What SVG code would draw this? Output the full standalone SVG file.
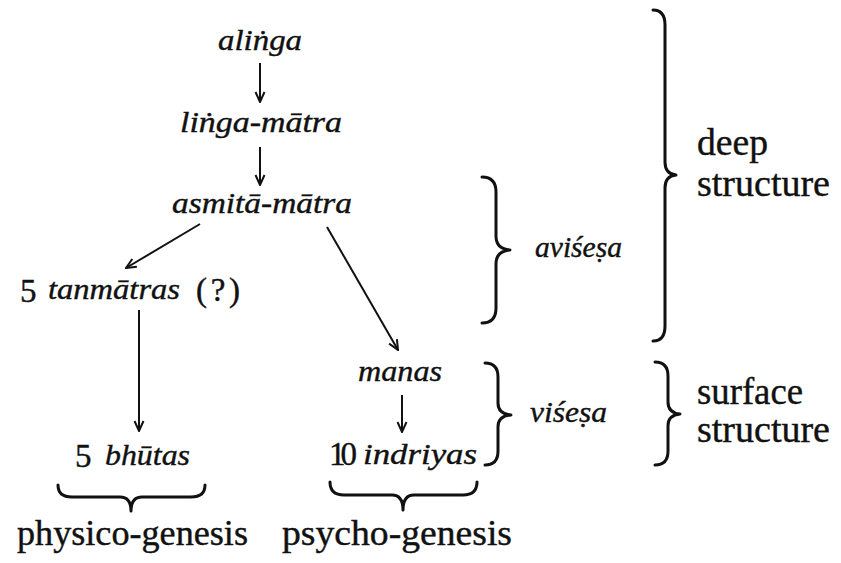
<svg xmlns="http://www.w3.org/2000/svg" width="841" height="563" viewBox="0 0 841 563">
  <style>
    text { font-family: 'Liberation Serif', serif; fill: #111; stroke: #111; stroke-width: 0.4; }
    .it { font-style: italic; font-size: 30px; }
    .up { font-size: 33px; }
    .side { font-size: 37px; }
    .foot { font-size: 35px; }
    .edge { stroke: #111; stroke-width: 2; fill: none; marker-end: url(#arrow); }
    .brace { stroke: #111; stroke-width: 3; fill: none; stroke-linecap: round; stroke-linejoin: round; }
  </style>
  <defs>
    <marker id="arrow" viewBox="0 0 12 12" refX="11" refY="6" markerWidth="12" markerHeight="12" markerUnits="userSpaceOnUse" orient="auto">
      <path d="M1,1.5 L11,6 L1,10.5" fill="none" stroke="#111" stroke-width="2"/>
    </marker>
  </defs>

  <rect width="841" height="563" fill="#fff"/>

  <g font-family="Liberation Serif, serif">
    <!-- derivation nodes -->
    <g id="alinga"><text class="it" x="218" y="50" textLength="84" lengthAdjust="spacingAndGlyphs">aliṅga</text></g>
    <g id="linga-matra"><text class="it" x="180" y="132" textLength="162" lengthAdjust="spacingAndGlyphs">liṅga-mātra</text></g>
    <g id="asmita-matra"><text class="it" x="172" y="213" textLength="180" lengthAdjust="spacingAndGlyphs">asmitā-mātra</text></g>
    <g id="tanmatras">
      <text class="up" x="20" y="302">5</text>
      <text class="it" x="48" y="299" textLength="132" lengthAdjust="spacingAndGlyphs">tanmātras</text>
      <text class="up" x="196" y="301" textLength="44" lengthAdjust="spacing">(?)</text>
    </g>
    <g id="manas"><text class="it" x="358" y="381" textLength="84" lengthAdjust="spacingAndGlyphs">manas</text></g>
    <g id="bhutas">
      <text class="up" x="75" y="467">5</text>
      <text class="it" x="105" y="465" textLength="85" lengthAdjust="spacingAndGlyphs">bhūtas</text>
    </g>
    <g id="indriyas">
      <text class="up" x="329" y="465" textLength="28" lengthAdjust="spacing">10</text>
      <text class="it" x="363" y="464" textLength="114" lengthAdjust="spacingAndGlyphs">indriyas</text>
    </g>

    <!-- connectors -->
    <g id="connectors">
      <line class="edge" x1="260" y1="63" x2="260" y2="102"/>
      <line class="edge" x1="260" y1="147" x2="260" y2="185"/>
      <line class="edge" x1="200" y1="224" x2="126" y2="268"/>
      <line class="edge" x1="327" y1="227" x2="398" y2="350"/>
      <line class="edge" x1="139" y1="310" x2="139" y2="431"/>
      <line class="edge" x1="402" y1="395" x2="402" y2="432"/>
    </g>

    <!-- braces grouping levels -->
    <g id="brace-avisesa">
      <path class="brace" d="M482,177 Q496,177 496,192 L496,236 Q496,249 510,250 Q496,251 496,264 L496,308 Q496,323 482,323"/>
      <text class="it" x="535" y="257" textLength="87" lengthAdjust="spacingAndGlyphs">aviśeṣa</text>
    </g>
    <g id="brace-visesa">
      <path class="brace" d="M485,363 Q498,363 498,377 L498,403 Q498,414 511,415 Q498,416 498,427 L498,451 Q498,465 485,465"/>
      <text class="it" x="530" y="422" textLength="77" lengthAdjust="spacingAndGlyphs">viśeṣa</text>
    </g>
    <g id="brace-deep">
      <path class="brace" d="M653,10 Q665,10 665,25 L665,162 Q665,174 676,175 Q665,176 665,188 L665,326 Q665,341 653,341"/>
      <text class="side" x="697" y="155" textLength="71" lengthAdjust="spacingAndGlyphs">deep</text>
      <text class="side" x="697" y="196" textLength="133" lengthAdjust="spacingAndGlyphs">structure</text>
    </g>
    <g id="brace-surface">
      <path class="brace" d="M655,362 Q668,362 668,376 L668,402 Q668,413 680,414 Q668,415 668,426 L668,451 Q668,465 655,465"/>
      <text class="side" x="697" y="404" textLength="106" lengthAdjust="spacingAndGlyphs">surface</text>
      <text class="side" x="697" y="442" textLength="133" lengthAdjust="spacingAndGlyphs">structure</text>
    </g>
    <g id="brace-physico">
      <path class="brace" d="M58,485 Q58,497 72,497 L120,497 Q131,497 131,511 Q131,497 142,497 L191,497 Q205,497 205,485"/>
      <text class="foot" x="17" y="545" textLength="231" lengthAdjust="spacingAndGlyphs">physico-genesis</text>
    </g>
    <g id="brace-psycho">
      <path class="brace" d="M330,482 Q330,495 344,495 L392,495 Q403,495 403,510 Q403,495 414,495 L463,495 Q477,495 477,482"/>
      <text class="foot" x="282" y="545" textLength="230" lengthAdjust="spacingAndGlyphs">psycho-genesis</text>
    </g>
  </g>
</svg>
